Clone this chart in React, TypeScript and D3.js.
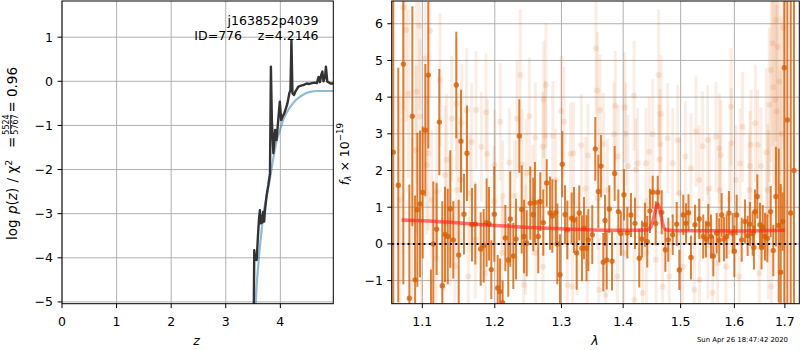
import React, { useEffect } from 'react';
import * as d3 from 'd3';

// ---- left panel: log p(z) ----
const pzZ = [3.512, 3.522, 3.535, 3.55, 3.566, 3.59, 3.61, 3.626, 3.641, 3.657, 3.672, 3.687, 3.703, 3.72, 3.749, 3.78, 3.81, 3.827, 3.845, 3.872, 3.89, 3.905, 3.93, 3.96, 3.99, 4.015, 4.04, 4.07, 4.1, 4.13, 4.165, 4.185, 4.203, 4.222, 4.25, 4.28, 4.33, 4.38, 4.43, 4.48, 4.53, 4.58, 4.63, 4.67, 4.7, 4.725, 4.75, 4.77, 4.79, 4.82, 4.835, 4.86, 4.88, 4.92, 4.97];
const pzLog = [-5.4, -3.83, -4.05, -3.95, -4.05, -3.5, -3.1, -2.92, -3.22, -3.05, -3.2, -2.96, -3.18, -2.9, -2.58, -2.35, -2.09, 0.33, -0.9, -1.63, -1.35, -1.1, -1.33, -0.9, -0.46, -0.88, -0.8, -0.73, -0.62, -0.5, -0.27, -0.2, 0.94, -0.27, -0.31, -0.22, -0.12, -0.1, -0.08, -0.05, -0.06, -0.04, -0.03, -0.04, 0.1, -0.02, 0.15, 0.22, 0.0, 0.1, 0.33, -0.01, -0.02, -0.05, -0.05];

const priorZ = [3.54, 3.55, 3.6, 3.65, 3.69, 3.75, 3.81, 3.87, 3.93, 3.99, 4.05, 4.12, 4.2, 4.28, 4.36, 4.45, 4.55, 4.65, 4.97];
const priorLog = [-5.4, -5.03, -4.1, -3.45, -3.0, -2.6, -2.2, -1.75, -1.35, -1.12, -0.88, -0.7, -0.55, -0.43, -0.35, -0.28, -0.24, -0.22, -0.22];

const zTicks = [0, 1, 2, 3, 4];
const pzTicks = [-5, -4, -3, -2, -1, 0, 1];

// ---- right panel: spectrum ----
const specLam = [1.0623, 1.0687, 1.0752, 1.083, 1.0869, 1.0905, 1.0935, 1.097, 1.1005, 1.104, 1.1079, 1.1115, 1.1146, 1.1191, 1.1227, 1.1267, 1.1304, 1.1341, 1.1376, 1.1417, 1.1458, 1.1491, 1.1523, 1.1564, 1.1606, 1.1676, 1.1723, 1.1799, 1.1841, 1.1883, 1.1917, 1.195, 1.1993, 1.2042, 1.2075, 1.2114, 1.2153, 1.2196, 1.2225, 1.227, 1.231, 1.2359, 1.2394, 1.2429, 1.2469, 1.2522, 1.2568, 1.2593, 1.2643, 1.2674, 1.272, 1.2772, 1.2823, 1.2858, 1.2911, 1.2936, 1.2977, 1.3013, 1.3056, 1.3092, 1.3161, 1.3197, 1.324, 1.3281, 1.3324, 1.3356, 1.3397, 1.3426, 1.349, 1.3539, 1.3589, 1.3632, 1.367, 1.3698, 1.3726, 1.3769, 1.3814, 1.3858, 1.3919, 1.3961, 1.4014, 1.407, 1.4132, 1.42, 1.4273, 1.4319, 1.4371, 1.4411, 1.4458, 1.4505, 1.4558, 1.4593, 1.4663, 1.4727, 1.4779, 1.4858, 1.493, 1.4976, 1.5048, 1.5097, 1.5142, 1.5187, 1.5261, 1.5339, 1.5413, 1.5463, 1.5506, 1.5557, 1.56, 1.5663, 1.5712, 1.5757, 1.5801, 1.5852, 1.5896, 1.5968, 1.6, 1.6044, 1.6141, 1.6205, 1.6257, 1.6302, 1.6355, 1.638, 1.6401, 1.6446, 1.65, 1.653, 1.6554, 1.6599, 1.6645, 1.6713, 1.6765, 1.6819, 1.6874, 1.6915, 1.6955, 1.6988, 1.705, 1.712, 1.7187];
const specFlux = [2.5, 1.6, 4.9, -1.48, 3.48, -0.98, 0.93, 1.09, 1.4, 3.1, 4.6, -1.9, 0.0, 0.4, 3.32, -1.14, 0.26, 0.2, 0.95, 0.11, 4.33, -0.3, 2.8, 0.81, 2.47, 0.52, 0.54, -0.14, -0.05, 0.58, 0.55, -0.7, 0.81, -1.2, -1.3, -1.6, 0.16, -0.44, 0.68, -0.33, 0.13, 2.94, 0.94, 0.2, 0.02, 1.11, 0.8, 1.13, 0.2, 1.15, 0.58, 1.66, 0.84, 0.76, 0.85, 0.0, -0.84, 2.17, 0.8, 0.38, 0.7, 0.65, -0.25, 0.84, -0.12, 0.43, -0.12, 0.11, 0.25, 2.59, 1.43, 2.12, -0.5, 0.64, -0.44, 0.95, -0.47, 1.92, 0.88, 0.28, 1.34, 0.3, 0.79, 0.56, -0.39, 0.13, 0.52, 0.06, 0.9, 1.41, 0.56, 1.41, 0.86, -0.16, 0.11, 0.25, 0.54, -0.71, 0.79, 0.56, 0.85, -0.37, 0.52, 0.68, 0.2, 0.13, 0.54, 0.2, -0.33, 0.29, 0.1, 0.79, 0.13, 0.2, 0.84, 0.29, -0.2, 0.79, 0.11, 0.61, 0.22, 0.54, 0.28, -0.1, 0.88, 1.29, 0.52, -0.1, 0.46, 0.2, 0.15, 0.88, -0.18, 1.29, 0.5, -0.77, 0.61, 4.8, 3.38, 0.84, 2.0];
const specErr = [8, 3.2, 6.0, 3.1, 3.0, 2.3, 2.1, 2.0, 1.8, 1.8, 2.0, 1.2, 1.7, 1.25, 1.45, 2.3, 1.3, 1.3, 1.6, 1.05, 1.45, 1.5, 1.4, 1.1, 1.3, 1.0, 1.1, 1.0, 1.0, 1.2, 1.0, 0.8, 1.3, 0.9, 0.9, 0.6, 0.9, 1.0, 1.3, 0.9, 1.1, 1.0, 1.2, 1.0, 0.9, 1.0, 1.0, 1.1, 1.0, 0.8, 0.9, 0.65, 1.0, 1.0, 0.9, 1.1, 1.1, 0.9, 0.8, 0.8, 0.7, 0.9, 1.0, 0.75, 0.9, 0.85, 0.9, 0.85, 0.8, 0.87, 1.0, 0.85, 0.8, 0.7, 0.8, 0.65, 0.8, 0.75, 0.6, 0.6, 0.7, 0.7, 0.6, 0.7, 0.8, 0.5, 0.6, 0.7, 0.6, 0.45, 0.6, 0.45, 0.6, 0.6, 0.6, 0.55, 0.6, 0.55, 0.55, 0.55, 0.5, 0.6, 0.55, 0.55, 0.6, 0.5, 0.55, 0.6, 0.55, 0.55, 0.6, 0.6, 0.6, 0.6, 0.6, 0.55, 0.7, 0.55, 0.6, 0.6, 0.55, 0.6, 0.6, 0.6, 0.6, 0.6, 0.6, 0.6, 0.6, 0.65, 0.65, 0.7, 0.7, 1.36, 2.1, 2.4, 0.8, 7, 7, 8, 8];

// individual exposures (faint)
const expLam = [1.0752, 1.0787, 1.0817, 1.0926, 1.0961, 1.097, 1.0917, 1.1036, 1.1079, 1.1058, 1.1102, 1.1236, 1.1124, 1.1191, 1.1304, 1.1327, 1.1395, 1.1463, 1.1532, 1.1601, 1.1672, 1.1648, 1.1509, 1.1468, 1.1625, 1.1372, 1.0992, 1.0865, 1.0709, 1.1182, 1.1276, 1.144,
  1.1733, 1.1874, 1.1807, 1.1892, 1.1999, 1.2079, 1.2114, 1.199, 1.2211, 1.229, 1.2373, 1.2324, 1.2399, 1.2508, 1.2598, 1.271, 1.2761, 1.2726, 1.275, 1.2865, 1.2463, 1.2559, 1.2448, 1.2605, 1.2715, 1.2424, 1.2104, 1.1864, 1.1723,
  1.3551, 1.3572, 1.3616, 1.2997, 1.304, 1.3145, 1.3187, 1.3313, 1.3421, 1.367, 1.3869, 1.4026, 1.3847, 1.4042, 1.4183, 1.3913, 1.4082, 1.4212, 1.2911, 1.3384, 1.358, 1.3736, 1.3092, 1.3171, 1.36, 1.3709, 1.341, 1.3902, 1.419, 1.3249, 1.4014,
  1.4609, 1.465, 1.4505, 1.4768, 1.4632, 1.4446, 1.462, 1.4389, 1.4245, 1.4858, 1.4948, 1.5086, 1.528, 1.5402, 1.5495, 1.565, 1.5187, 1.5339, 1.5525, 1.4976, 1.4395, 1.4563, 1.4797, 1.5037, 1.5345, 1.5588, 1.4331, 1.468, 1.5248, 1.55,
  1.5935, 1.5712, 1.5744, 1.594, 1.6108, 1.616, 1.6322, 1.6407, 1.6454, 1.6302, 1.652, 1.6685, 1.6719, 1.6753, 1.6819, 1.6854, 1.6765, 1.6886, 1.6805, 1.6834, 1.6653, 1.6031, 1.5718, 1.5903, 1.6289, 1.5839, 1.6094, 1.6486, 1.6725, 1.5681, 1.6626, 1.6928, 1.6962, 1.6665, 1.6905];
const expFlux = [6.45, 5.83, 4.1, 4.15, 5.94, 3.47, 2.56, 5.05, 2.47, 2.15, 5.8, 4.47, 1.2, 1.42, 1.88, 2.29, 3.42, 3.82, 3.3, 3.64, 2.78, 1.38, 1.74, 1.47, -0.89, 0.65, -1.67, 0.6, 1.2, -0.4, -1.2, -0.6,
  3.65, 3.59, 2.65, 2.45, 2.16, 3.33, 1.31, 1.16, 2.22, 1.31, 4.6, 3.41, 2.17, 3.48, 2.9, 2.65, 4.33, 3.94, 2.95, 2.94, 1.92, 1.2, 0.11, -0.25, -0.62, -1.12, -0.25, -0.8, 0.11,
  5.33, 4.18, 3.65, 3.62, 3.33, 2.45, 2.47, 2.69, 2.41, 2.72, 3.76, 3.72, 2.99, 3.0, 4.04, 2.38, 2.12, 2.02, 1.74, 1.51, 1.24, 1.47, -1.12, -1.16, -1.26, -1.39, -0.53, -0.89, -1.52, 0.0, -0.25,
  4.6, 3.54, 2.99, 2.88, 2.72, 2.51, 2.3, 2.2, 2.2, 2.2, 2.83, 2.38, 3.06, 2.66, 2.83, 2.92, 2.06, 1.74, 1.51, 1.38, -0.25, -0.43, -0.89, -0.62, -0.98, -1.34, -1.34, -1.16, -1.25, 0.0,
  3.74, 2.6, 2.42, 2.74, 2.19, 3.19, 2.7, 3.29, 2.7, 2.12, 2.12, 3.79, 4.74, 5.47, 6.1, 5.37, 4.27, 4.42, 3.92, 3.61, 1.47, 1.74, 1.47, 1.2, 1.47, -0.62, -0.89, -0.8, -1.16, -0.53, 2.5, 3.0, 5.9, 0.8, 1.5];
const expErr = [2.8, 2.5, 2.3, 2.5, 2.3, 2.1, 2.3, 2.3, 2.1, 1.9, 1.8, 1.8, 1.9, 1.8, 1.9, 1.8, 1.7, 1.8, 1.6, 1.7, 1.6, 1.6, 1.7, 1.7, 1.6, 1.8, 2.3, 2.3, 2.8, 2.1, 1.9, 1.8,
  1.6, 1.6, 1.5, 1.5, 1.5, 1.6, 1.5, 1.5, 1.5, 1.5, 1.8, 1.6, 1.5, 1.6, 1.5, 1.5, 1.7, 1.6, 1.5, 1.5, 1.5, 1.5, 1.5, 1.4, 1.4, 1.5, 1.5, 1.6, 1.6,
  1.8, 1.6, 1.5, 1.5, 1.5, 1.4, 1.4, 1.4, 1.4, 1.4, 1.5, 1.5, 1.4, 1.4, 1.5, 1.4, 1.4, 1.4, 1.4, 1.4, 1.4, 1.4, 1.4, 1.4, 1.4, 1.4, 1.4, 1.4, 1.4, 1.4, 1.4,
  1.8, 1.6, 1.5, 1.5, 1.5, 1.5, 1.5, 1.5, 1.5, 1.5, 1.5, 1.5, 1.5, 1.5, 1.5, 1.5, 1.5, 1.5, 1.5, 1.5, 1.5, 1.5, 1.5, 1.5, 1.5, 1.5, 1.5, 1.5, 1.5, 1.5,
  1.6, 1.5, 1.5, 1.5, 1.5, 1.5, 1.5, 1.6, 1.5, 1.5, 1.6, 2.1, 2.5, 2.8, 3.3, 3.1, 2.7, 3.1, 2.8, 2.9, 1.8, 1.5, 1.5, 1.5, 1.5, 1.5, 1.5, 1.6, 1.9, 1.5, 2.3, 3.2, 3.3, 2.3, 3.2];

// model
const modelLam = [1.073, 1.1, 1.15, 1.2, 1.25, 1.3, 1.35, 1.4, 1.44, 1.447, 1.452, 1.456, 1.459, 1.462, 1.466, 1.47, 1.474, 1.5, 1.55, 1.6, 1.65, 1.7];
const modelFlux = [0.65, 0.63, 0.57, 0.5, 0.45, 0.41, 0.38, 0.37, 0.38, 0.46, 0.7, 0.95, 1.09, 1.0, 0.7, 0.45, 0.38, 0.36, 0.36, 0.35, 0.36, 0.37];

const lamTicks = [1.1, 1.2, 1.3, 1.4, 1.5, 1.6, 1.7];
const fluxTicks = [-1, 0, 1, 2, 3, 4, 5, 6];

const FONT = '"DejaVu Sans", sans-serif';
const FS = 12.5;
const LFS = 13.5;
const SUB = 8.75;
const GRID = '#b0b0b0';
const ORANGE = '#d95f02';
const TICK = 4.4;

const L = { x0: 62, x1: 333.3, y0: 1, y1: 303.7 };
const R = { x0: 391.7, x1: 799.3, y0: 1, y1: 303.7 };

const fmt = (v: number, d = 0) => (v < 0 ? '\u2212' : '') + Math.abs(v).toFixed(d);

export default function App() {
  useEffect(() => {
    document.body.style.margin = '0';
  }, []);

  const zx = d3.scaleLinear().domain([0, 4.97]).range([L.x0, L.x1]);
  const py = d3.scaleLinear().domain([-5.04, 1.82]).range([L.y1, L.y0]);
  const lx = d3.scaleLog().domain([1.0603, 1.7297]).range([R.x0, R.x1]);
  const fy = d3.scaleLinear().domain([-1.63, 6.62]).range([R.y1, R.y0]);

  const pzLine = d3.line<number>().x((_, i) => zx(pzZ[i])).y(d => py(d));
  const priorLine = d3.line<number>().x((_, i) => zx(priorZ[i])).y(d => py(d)).curve(d3.curveMonotoneX);
  const modelLine = d3.line<number>().x((_, i) => lx(modelLam[i])).y(d => fy(d)).curve(d3.curveMonotoneX);

  return (
    <svg width={800} height={350} style={{ display: 'block', background: '#fff' }} fontFamily={FONT}>
      <defs>
        <clipPath id="clipL"><rect x={L.x0} y={L.y0} width={L.x1 - L.x0} height={L.y1 - L.y0} /></clipPath>
        <clipPath id="clipR"><rect x={R.x0} y={R.y0} width={R.x1 - R.x0} height={R.y1 - R.y0} /></clipPath>
      </defs>

      {/* ---------- left panel ---------- */}
      <g>
        {zTicks.map(t => (
          <line key={'gz' + t} x1={zx(t)} x2={zx(t)} y1={L.y0} y2={L.y1} stroke={GRID} strokeWidth={1} />
        ))}
        {pzTicks.map(t => (
          <line key={'gp' + t} x1={L.x0} x2={L.x1} y1={py(t)} y2={py(t)} stroke={GRID} strokeWidth={1} />
        ))}
        <g clipPath="url(#clipL)">
          <path d={priorLine(priorLog) || ''} fill="none" stroke="#1f77b4" strokeOpacity={0.5} strokeWidth={2.2} />
          <path d={pzLine(pzLog) || ''} fill="none" stroke="#333" strokeWidth={2.4} strokeLinejoin="round" />
        </g>
        <rect x={L.x0} y={L.y0} width={L.x1 - L.x0} height={L.y1 - L.y0} fill="none" stroke="#000" strokeWidth={1} />
        {zTicks.map(t => (
          <g key={'tz' + t}>
            <line x1={zx(t)} x2={zx(t)} y1={L.y1} y2={L.y1 + TICK} stroke="#000" strokeWidth={1} />
            <text x={zx(t)} y={326} fontSize={FS} textAnchor="middle">{fmt(t)}</text>
          </g>
        ))}
        {pzTicks.map(t => (
          <g key={'tp' + t}>
            <line x1={L.x0 - TICK} x2={L.x0} y1={py(t)} y2={py(t)} stroke="#000" strokeWidth={1} />
            <text x={53} y={py(t)} dy="0.36em" fontSize={FS} textAnchor="end">{fmt(t)}</text>
          </g>
        ))}
        <text x={318.5} y={25} fontSize={FS} textAnchor="end">j163852p4039</text>
        <text x={242} y={39.5} fontSize={FS} textAnchor="end">ID=776</text>
        <text x={318.5} y={39.5} fontSize={FS} textAnchor="end">z=4.2146</text>
        <text x={196.5} y={345} fontSize={FS} textAnchor="middle" fontStyle="italic">z</text>
        <g transform="translate(17,152.5) rotate(-90)" fontSize={LFS}>
          <text x={-87.5} y={0}>log</text>
          <text x={-61.5} y={0}><tspan fontStyle="italic">p</tspan>(<tspan fontStyle="italic">z</tspan>)</text>
          <text x={-30} y={0}>/</text>
          <text x={-21} y={0}>χ<tspan dy={-5.5} fontSize={9.4}>2</tspan></text>
          <text x={4.5} y={0}>=</text>
          <text x={28} y={-8} fontSize={8} textAnchor="middle">5524</text>
          <line x1={18.5} x2={37.5} y1={-6.5} y2={-6.5} stroke="#000" strokeWidth={0.7} />
          <text x={28} y={1} fontSize={8} textAnchor="middle">5767</text>
          <text x={40} y={0}>=</text>
          <text x={85.5} y={0} textAnchor="end">0.96</text>
        </g>
      </g>

      {/* ---------- right panel ---------- */}
      <g>
        {lamTicks.map(t => (
          <line key={'gl' + t} x1={lx(t)} x2={lx(t)} y1={R.y0} y2={R.y1} stroke={GRID} strokeWidth={1} />
        ))}
        {fluxTicks.map(t => (
          <line key={'gf' + t} x1={R.x0} x2={R.x1} y1={fy(t)} y2={fy(t)} stroke={GRID} strokeWidth={1} />
        ))}
        <g clipPath="url(#clipR)">
          {expLam.map((l, i) => (
            <g key={'e' + i}>
              <line x1={lx(l)} x2={lx(l)} y1={fy(expFlux[i] - expErr[i])} y2={fy(expFlux[i] + expErr[i])} stroke={ORANGE} strokeOpacity={0.11} strokeWidth={3} />
              <circle cx={lx(l)} cy={fy(expFlux[i])} r={3} fill={ORANGE} fillOpacity={0.13} />
            </g>
          ))}
          {specLam.map((l, i) => (
            <g key={'s' + i}>
              <line x1={lx(l)} x2={lx(l)} y1={fy(specFlux[i] - specErr[i])} y2={fy(specFlux[i] + specErr[i])} stroke={ORANGE} strokeOpacity={0.8} strokeWidth={2} />
              <circle cx={lx(l)} cy={fy(specFlux[i])} r={2.7} fill={ORANGE} fillOpacity={0.8} />
            </g>
          ))}
          <path d={modelLine(modelFlux) || ''} fill="none" stroke="#ff1a1a" strokeOpacity={0.6} strokeWidth={3.5} />
          <line x1={R.x0} x2={R.x1} y1={fy(0)} y2={fy(0)} stroke="#000" strokeWidth={2} strokeDasharray="2,3.3" />
        </g>
        <rect x={R.x0} y={R.y0} width={R.x1 - R.x0} height={R.y1 - R.y0} fill="none" stroke="#000" strokeWidth={1} />
        {lamTicks.map(t => (
          <g key={'tl' + t}>
            <line x1={lx(t)} x2={lx(t)} y1={R.y1} y2={R.y1 + TICK} stroke="#000" strokeWidth={1} />
            <text x={lx(t)} y={326} fontSize={FS} textAnchor="middle">{fmt(t, 1)}</text>
          </g>
        ))}
        {fluxTicks.map(t => (
          <g key={'tf' + t}>
            <line x1={R.x0 - TICK} x2={R.x0} y1={fy(t)} y2={fy(t)} stroke="#000" strokeWidth={1} />
            <text x={383} y={fy(t)} dy="0.36em" fontSize={FS} textAnchor="end">{fmt(t)}</text>
          </g>
        ))}
        <text x={595} y={345} fontSize={FS} textAnchor="middle" fontStyle="italic">λ</text>
        <g transform="translate(348.5,154) rotate(-90)" fontSize={FS}>
          <text x={0} y={0} textAnchor="middle"><tspan fontStyle="italic">f</tspan><tspan dy={2.5} fontSize={SUB} fontStyle="italic">λ</tspan><tspan dy={-2.5}> × 10</tspan><tspan dy={-5.5} fontSize={SUB}>−19</tspan></text>
        </g>
        <text x={788} y={342} fontSize={6.9} textAnchor="end">Sun Apr 26 18:47:42 2020</text>
      </g>
    </svg>
  );
}
